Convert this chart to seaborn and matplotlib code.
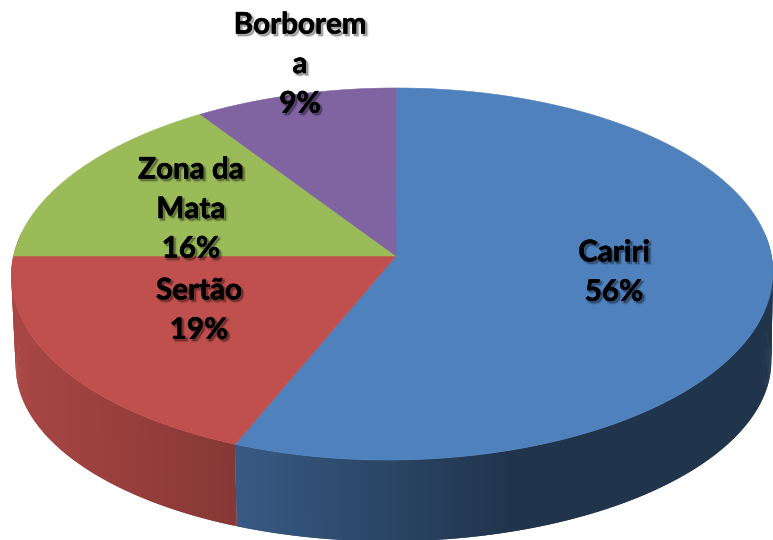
import numpy as np
import seaborn as sns
import matplotlib.pyplot as plt
import matplotlib.patheffects as pe

# dados do gráfico
regioes = ["Cariri", "Sertão", "Zona da\nMata", "Borborem\na"]
valores = [56, 19, 15.6, 9.4]
cores = ["#4F81BD", "#C0504D", "#9BBB59", "#8064A2"]

# posição dos rótulos (pixels)
rotulo_x = [614, 199, 191, 300]
rotulo_y = [272, 310, 209, 64]

sns.set_theme(style="white")
plt.rcParams["font.family"] = ["Lato", "DejaVu Sans"]
paleta = sns.color_palette(cores)

fig, ax = plt.subplots(figsize=(7.73, 5.40), dpi=100)
ax.set_position([0, 0, 1, 1])
ax.set_xlim(0, 773)
ax.set_ylim(540, 0)
ax.axis("off")

K = 0.0968


# projeção em perspectiva do disco (theta em horário a partir do topo)
def topo(theta):
    X, Y = np.sin(theta), np.cos(theta)
    d = 1 + K * Y
    return 392.5 + (379 * X + 4 * Y) / d, 256 - 184.3 * Y / d


def base(theta):
    X, Y = np.sin(theta), np.cos(theta)
    d = 1 + K * Y
    return 394 + (376 * X + 5 * Y) / d, 346 - 176.4 * Y / d


limites = np.cumsum([0] + valores) / sum(valores) * 2 * np.pi

# lateral em tiras, escurecendo da esquerda para a direita
# cada tira cobre também a seguinte para não aparecer emenda
for i in range(len(valores)):
    ini, fim = limites[i], limites[i + 1]
    n = max(int((fim - ini) * 120), 2)
    ang = np.linspace(ini, fim, n + 1)
    for j in range(n):
        a, b = ang[j], ang[min(j + 2, n)]
        if np.cos(ang[j]) > 0.12:
            continue
        xt, yt = topo(np.array([a, b]))
        xb, yb = base(np.array([b, a]))
        luz = np.interp(xt[0], [12, 235, 520, 773], [0.88, 0.70, 0.40, 0.40])
        # a borda esquerda depois de 270 graus continua vermelha
        cor = tuple(c * luz for c in paleta[min(i, 1)])
        ax.fill(np.r_[xt, xb], np.r_[yt, yb], color=cor, lw=0, zorder=1 + i * 0.01)

# tampa do disco
for i in range(len(valores)):
    ang = np.linspace(limites[i], limites[i + 1], 300)
    x, y = topo(ang)
    ax.fill(np.r_[396, x], np.r_[256, y], color=paleta[i], lw=0.4, zorder=3)

# rótulos com sombra
sombra = [
    pe.Stroke(linewidth=2.5, foreground="black", alpha=0.08, offset=(1.5, -1.5)),
    pe.Stroke(linewidth=1, foreground="black", alpha=0.2, offset=(1.5, -1.5)),
    pe.Stroke(linewidth=0.4, foreground="black"),
    pe.Normal(),
]
for nome, v, tx, ty in zip(regioes, valores, rotulo_x, rotulo_y):
    ax.text(tx, ty, f"{nome}\n{v:.0f}%", ha="center", va="center", color="black",
            fontsize=21.3, fontweight="bold", linespacing=1.5, zorder=5,
            path_effects=sombra)

fig.savefig("out.png", dpi=100, facecolor="white")
